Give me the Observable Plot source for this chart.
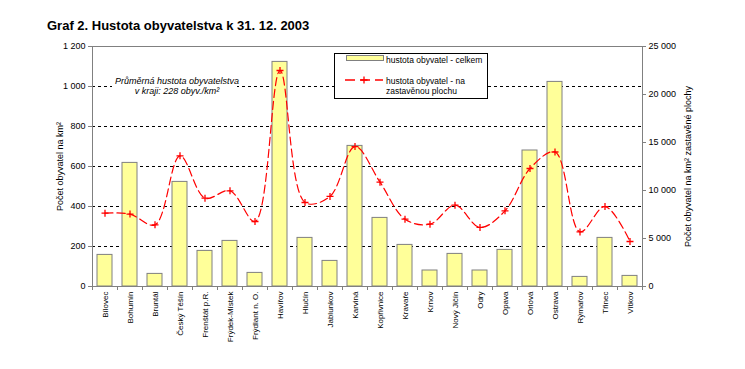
<!DOCTYPE html>
<html><head><meta charset="utf-8">
<script src="https://cdn.jsdelivr.net/npm/d3@7"></script>
<script src="https://cdn.jsdelivr.net/npm/@observablehq/plot@0.6"></script>
<style>
body{margin:0;background:#fff;}
#wrap{position:relative;width:745px;height:369px;font-family:"Liberation Sans",Arial,sans-serif;}
#wrap svg{position:absolute;left:0;top:0;}
</style></head><body><div id="wrap"></div>
<script>
const title = "Graf 2. Hustota obyvatelstva k 31. 12. 2003";
const towns = ["Bílovec","Bohumín","Bruntál","Český Těšín","Frenštát p.R.","Frýdek-Místek","Frýdlant n. O.","Havířov","Hlučín","Jablunkov","Karviná","Kopřivnice","Kravaře","Krnov","Nový Jičín","Odry","Opava","Orlová","Ostrava","Rýmařov","Třinec","Vítkov"];
const densityTotal = [158,618,63,523,178,228,68,1123,243,128,703,343,208,80,163,80,183,680,1023,48,243,53];
const densityBuilt = [7640,7540,6420,13610,9200,9970,6770,22500,8750,9380,14580,10870,7010,6490,8470,6150,7880,12290,14010,5690,8330,4690];
const leftTicks = [0,200,400,600,800,1000,1200];
const rightTicks = [0,5000,10000,15000,20000,25000];
const gridValues = [200,400,600,800,1000];
const seriesNames = ["hustota obyvatel - celkem", "hustota obyvatel - na", "zastavěnou plochu"];
const leftLabel = "Počet obyvatel na km²";
const rightLabel = "Počet obyvatel na km² zastavěné plochy";
const noteLines = ["Průměrná hustota obyvatelstva", "v kraji: 228 obyv./km²"];

const leftMax = 1200, rightMax = 25000, k = leftMax / rightMax;
const data = towns.map((t, i) => ({town: t, total: densityTotal[i], built: densityBuilt[i]}));
const fmt = d3.formatLocale({decimal: ",", thousands: " ", grouping: [3], currency: ["", ""]}).format(",d");
const plusSymbol = {draw(ctx, size) { const r = Math.sqrt(size / Math.PI); ctx.moveTo(-r, 0); ctx.lineTo(r, 0); ctx.moveTo(0, -r); ctx.lineTo(0, r); }};

const chart = Plot.plot({
  width: 745, height: 369,
  marginLeft: 92, marginRight: 103, marginTop: 46, marginBottom: 83,
  style: {fontFamily: "'Liberation Sans', Arial, sans-serif", fontSize: "9px", background: "transparent", overflow: "visible"},
  x: {type: "band", domain: towns, paddingInner: 0.4, paddingOuter: 0.2},
  y: {domain: [0, leftMax]},
  marks: [
    Plot.ruleY(gridValues, {stroke: "black", strokeDasharray: "3,3", strokeWidth: 1}),
    Plot.barY(data, {x: "town", y: "total", fill: "#FFFF99", stroke: "#808080", strokeWidth: 1}),
    Plot.frame({stroke: "#808080"}),
    Plot.ruleX(towns, {x: d => d, y1: 0, y2: -20, dx: -12.5, stroke: "#808080"}),
    Plot.ruleX(towns.slice(-1), {x: d => d, y1: 0, y2: -20, dx: 12.5, stroke: "#808080"}),
    Plot.axisX({tickSize: 0, tickPadding: 5, tickRotate: -90, fontSize: 8, fill: "black", label: null}),
    Plot.axisY(leftTicks, {anchor: "left", tickSize: 4, tickPadding: 3, stroke: "#808080", tickFormat: fmt, label: leftLabel, labelAnchor: "center", labelOffset: 36, labelArrow: "none"}),
    Plot.axisY(rightTicks.map(v => v * k), {anchor: "right", tickSize: 3, tickPadding: 3, stroke: "#808080", tickFormat: d => fmt(Math.round(d / k)), label: rightLabel, labelAnchor: "center", labelOffset: 48, labelArrow: "none"}),
    Plot.line(data, {x: "town", y: d => d.built * k, stroke: "red", strokeWidth: 1.2, strokeDasharray: "8,4", curve: "catmull-rom"}),
    Plot.dot(data, {x: "town", y: d => d.built * k, symbol: plusSymbol, r: 3.5, stroke: "red", strokeWidth: 1.3, fill: "none"})
  ]
});
const wrap = document.getElementById("wrap");
wrap.appendChild(chart);

// Overlay: title, note, legend
const ov = d3.select(wrap).append("svg").attr("width", 745).attr("height", 369)
  .style("font-family", "'Liberation Sans', Arial, sans-serif");
ov.append("text").attr("x", 47).attr("y", 30).attr("font-size", 13).attr("font-weight", "bold").text(title);

const note = ov.append("g");
note.append("rect").attr("x", 112).attr("y", 73).attr("width", 125).attr("height", 25).attr("fill", "white");
noteLines.forEach((s, i) => note.append("text").attr("x", 177).attr("y", 84 + i * 10)
  .attr("text-anchor", "middle").attr("font-size", 9).attr("font-style", "italic").text(s));

const lg = ov.append("g").attr("transform", "translate(334,53)");
lg.append("rect").attr("x", 0.5).attr("y", 0.5).attr("width", 153).attr("height", 45).attr("fill", "white").attr("stroke", "black");
lg.append("rect").attr("x", 12.5).attr("y", 2.5).attr("width", 37).attr("height", 5).attr("fill", "#FFFF99").attr("stroke", "#808080");
lg.append("text").attr("x", 52).attr("y", 10).attr("font-size", 8.5).text(seriesNames[0]);
lg.append("line").attr("x1", 11).attr("x2", 49).attr("y1", 27).attr("y2", 27).attr("stroke", "red").attr("stroke-width", 1.3).attr("stroke-dasharray", "10,5");
lg.append("path").attr("d", "M26.5,27h7M30,23.5v7").attr("stroke", "red").attr("stroke-width", 1.3);
lg.append("text").attr("x", 52).attr("y", 31).attr("font-size", 8.5).text(seriesNames[1]);
lg.append("text").attr("x", 52).attr("y", 41).attr("font-size", 8.5).text(seriesNames[2]);
</script></body></html>
